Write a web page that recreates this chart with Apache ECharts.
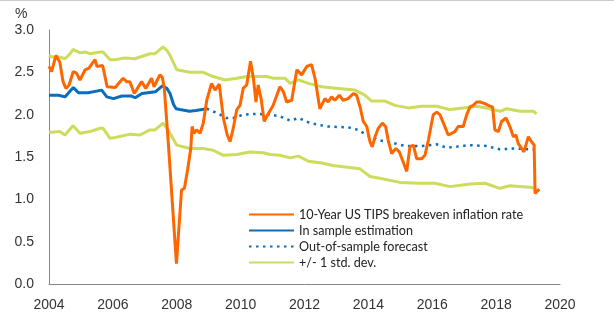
<!DOCTYPE html>
<html>
<head>
<meta charset="utf-8">
<script src="https://cdn.jsdelivr.net/npm/echarts@6/dist/echarts.min.js"></script>
<style>
html,body{margin:0;padding:0;background:#fff;}
#c{width:614px;height:333px;}
</style>
</head>
<body>
<div id="c"></div>
<script>
// Data: [decimal year, percent]
var xTicks = [2004, 2006, 2008, 2010, 2012, 2014, 2016, 2018, 2020];
var yTicks = [0.0, 0.5, 1.0, 1.5, 2.0, 2.5, 3.0];

var breakeven = [
  [2004.00,2.57],[2004.08,2.51],[2004.22,2.70],[2004.34,2.62],[2004.44,2.39],[2004.53,2.31],[2004.63,2.35],
  [2004.76,2.51],[2004.86,2.49],[2004.97,2.41],[2005.13,2.53],[2005.25,2.55],[2005.44,2.65],[2005.50,2.57],
  [2005.68,2.58],[2005.82,2.33],[2006.07,2.32],[2006.32,2.43],[2006.43,2.39],[2006.53,2.39],[2006.67,2.25],
  [2006.90,2.39],[2007.03,2.31],[2007.21,2.43],[2007.29,2.33],[2007.47,2.47],[2007.55,2.44],[2007.61,2.31],
  [2007.73,1.70],[2007.99,0.24],[2008.15,1.11],[2008.24,1.13],[2008.34,1.35],[2008.44,1.60],[2008.48,1.86],
  [2008.54,1.78],[2008.62,1.82],[2008.73,1.78],[2008.83,1.90],[2008.94,2.17],[2009.09,2.37],[2009.20,2.29],
  [2009.33,2.36],[2009.46,1.96],[2009.58,1.76],[2009.67,1.68],[2009.77,1.84],[2009.88,2.06],[2009.98,2.11],
  [2010.08,2.31],[2010.19,2.35],[2010.31,2.63],[2010.40,2.43],[2010.48,2.15],[2010.55,2.35],[2010.64,2.19],
  [2010.74,1.92],[2010.82,1.98],[2011.02,2.11],[2011.23,2.33],[2011.34,2.27],[2011.44,2.15],[2011.60,2.17],
  [2011.76,2.53],[2011.91,2.47],[2012.07,2.57],[2012.22,2.59],[2012.33,2.43],[2012.48,2.07],[2012.64,2.19],
  [2012.74,2.15],[2012.85,2.21],[2012.95,2.17],[2013.09,2.23],[2013.21,2.17],[2013.37,2.19],[2013.53,2.25],
  [2013.63,2.23],[2013.74,2.09],[2013.84,1.92],[2013.95,1.86],[2014.05,1.68],[2014.12,1.62],[2014.21,1.74],
  [2014.31,1.84],[2014.44,1.90],[2014.54,1.86],[2014.62,1.70],[2014.73,1.54],[2014.86,1.60],[2014.97,1.56],
  [2015.09,1.44],[2015.20,1.33],[2015.30,1.62],[2015.41,1.64],[2015.51,1.48],[2015.67,1.48],[2015.77,1.52],
  [2015.88,1.70],[2016.03,2.00],[2016.14,2.03],[2016.24,2.00],[2016.35,1.90],[2016.50,1.76],[2016.61,1.78],
  [2016.71,1.80],[2016.81,1.86],[2016.97,1.86],[2017.08,2.00],[2017.18,2.09],[2017.28,2.11],[2017.39,2.15],
  [2017.49,2.15],[2017.65,2.13],[2017.75,2.11],[2017.81,2.13],[2017.89,2.09],[2017.96,1.82],[2018.07,1.80],
  [2018.17,1.92],[2018.31,1.96],[2018.43,1.86],[2018.54,1.74],[2018.62,1.76],[2018.69,1.66],[2018.80,1.60],
  [2018.87,1.56],[2019.01,1.74],[2019.11,1.68],[2019.19,1.64],[2019.22,1.07],[2019.35,1.12]
];

var inSample = [
  [2004.00,2.23],[2004.30,2.23],[2004.50,2.21],[2004.76,2.32],[2004.92,2.26],[2005.23,2.26],[2005.65,2.29],
  [2005.81,2.21],[2006.02,2.19],[2006.28,2.22],[2006.59,2.22],[2006.70,2.20],[2006.91,2.25],[2007.33,2.27],
  [2007.55,2.34],[2007.69,2.31],[2007.79,2.25],[2007.90,2.12],[2007.98,2.07],[2008.10,2.06],[2008.40,2.04],
  [2008.60,2.05],[2008.94,2.07]
];

var forecast = [
  [2008.94,2.07],[2009.25,2.02],[2009.56,1.96],[2009.77,1.96],[2010.08,2.00],[2010.50,2.01],[2010.92,2.00],
  [2011.23,1.98],[2011.55,1.93],[2011.81,1.96],[2012.12,1.91],[2012.43,1.88],[2012.74,1.86],[2013.37,1.85],
  [2013.68,1.82],[2013.95,1.76],[2014.31,1.70],[2014.73,1.67],[2015.15,1.63],[2015.67,1.63],[2016.14,1.65],
  [2016.45,1.61],[2017.18,1.64],[2017.70,1.63],[2018.12,1.59],[2018.54,1.60],[2019.18,1.59]
];

var upperBand = [
  [2004.00,2.70],[2004.09,2.68],[2004.34,2.68],[2004.50,2.66],[2004.66,2.72],[2004.75,2.77],[2004.97,2.73],
  [2005.13,2.74],[2005.28,2.72],[2005.60,2.74],[2005.69,2.74],[2005.91,2.65],[2006.07,2.65],[2006.38,2.67],
  [2006.69,2.66],[2007.16,2.72],[2007.32,2.72],[2007.57,2.80],[2007.69,2.76],[2007.79,2.70],[2008.00,2.53],
  [2008.41,2.50],[2008.83,2.50],[2009.14,2.45],[2009.51,2.41],[2009.88,2.43],[2010.19,2.45],[2010.82,2.45],
  [2011.02,2.43],[2011.39,2.43],[2011.55,2.37],[2011.81,2.41],[2012.12,2.37],[2012.54,2.33],[2013.06,2.31],
  [2013.58,2.29],[2013.89,2.23],[2014.10,2.16],[2014.52,2.16],[2014.83,2.11],[2015.25,2.08],[2015.67,2.10],
  [2016.14,2.10],[2016.55,2.06],[2016.97,2.08],[2017.39,2.10],[2017.81,2.07],[2018.12,2.04],[2018.33,2.07],
  [2018.75,2.04],[2019.16,2.04],[2019.27,2.01]
];

var lowerBand = [
  [2004.00,1.79],[2004.34,1.80],[2004.50,1.76],[2004.75,1.87],[2004.97,1.78],[2005.28,1.80],[2005.60,1.84],
  [2005.69,1.84],[2005.91,1.72],[2006.07,1.73],[2006.54,1.77],[2006.85,1.76],[2007.16,1.82],[2007.32,1.82],
  [2007.57,1.90],[2007.69,1.84],[2007.79,1.78],[2008.00,1.64],[2008.41,1.60],[2008.83,1.60],[2009.14,1.58],
  [2009.46,1.52],[2009.88,1.53],[2010.29,1.56],[2010.71,1.55],[2010.92,1.53],[2011.23,1.52],[2011.55,1.49],
  [2011.81,1.51],[2012.12,1.45],[2012.54,1.43],[2012.89,1.40],[2013.74,1.36],[2014.05,1.27],[2014.36,1.25],
  [2014.99,1.20],[2015.62,1.19],[2016.09,1.19],[2016.55,1.15],[2017.18,1.18],[2017.65,1.19],[2018.12,1.13],
  [2018.43,1.16],[2019.15,1.14],[2019.28,1.09]
];

var names = ['10-Year US TIPS breakeven inflation rate', 'In sample estimation', 'Out-of-sample forecast', '+/- 1 std. dev.'];
var colors = { orange: '#FF6600', blue: '#0A6EBD', green: '#CDDC5C' };

var chart = echarts.init(document.getElementById('c'), null, { renderer: 'canvas' });
var labelFont = { fontFamily: 'Liberation Sans, Arial, sans-serif', fontSize: 14, color: '#333' };

chart.setOption({
  animation: false,
  backgroundColor: '#fff',
  grid: { left: 49, right: 54, top: 30, bottom: 49, containLabel: false },
  graphic: [
    { type: 'line', shape: { x1: 0, y1: 0.5, x2: 614, y2: 0.5 }, style: { stroke: '#ccc', lineWidth: 1 } },
    { type: 'text', left: 15, top: 7, style: { text: '%', font: '14px Liberation Sans, Arial, sans-serif', fill: '#333' } }
  ],
  legend: {
    orient: 'vertical',
    left: 248,
    top: 208,
    padding: 0,
    itemWidth: 45,
    itemHeight: 14,
    itemGap: 3,
    data: names,
    itemStyle: { opacity: 0 },
    textStyle: { fontFamily: 'Lato, sans-serif', fontSize: 12.6, color: '#222' },
    selectedMode: false
  },
  xAxis: {
    type: 'value',
    min: xTicks[0],
    max: xTicks[xTicks.length - 1],
    interval: 2,
    axisLine: { lineStyle: { color: '#888', width: 1 } },
    axisTick: { show: false },
    splitLine: { show: false },
    axisLabel: Object.assign({ margin: 14, formatter: function (v) { return String(v); } }, labelFont)
  },
  yAxis: {
    type: 'value',
    min: yTicks[0],
    max: yTicks[yTicks.length - 1],
    interval: 0.5,
    axisLine: { show: true, lineStyle: { color: '#888', width: 1 } },
    axisTick: { show: false },
    splitLine: { show: false },
    axisLabel: Object.assign({ margin: 15, formatter: function (v) { return v.toFixed(1); } }, labelFont)
  },
  series: [
    { name: names[3], type: 'line', data: upperBand, showSymbol: false, symbol: 'none', z: 2,
      lineStyle: { color: colors.green, width: 3 }, itemStyle: { color: colors.green } },
    { name: names[3], type: 'line', data: lowerBand, showSymbol: false, symbol: 'none', z: 2,
      lineStyle: { color: colors.green, width: 3 }, itemStyle: { color: colors.green } },
    { name: names[1], type: 'line', data: inSample, showSymbol: false, symbol: 'none', z: 3,
      lineStyle: { color: colors.blue, width: 3 }, itemStyle: { color: colors.blue } },
    { name: names[2], type: 'line', data: forecast, showSymbol: false, symbol: 'none', z: 3,
      lineStyle: { color: colors.blue, width: 2.5, type: [2.5, 4.5] }, itemStyle: { color: colors.blue } },
    { name: names[0], type: 'line', data: breakeven, showSymbol: false, symbol: 'none', z: 4,
      lineStyle: { color: colors.orange, width: 3 }, itemStyle: { color: colors.orange } }
  ]
});
</script>
</body>
</html>
